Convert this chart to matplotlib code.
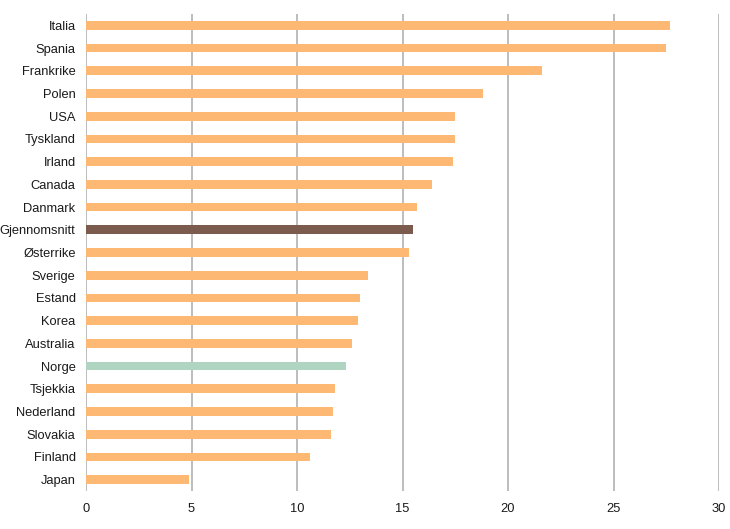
import matplotlib
matplotlib.use("Agg")
import matplotlib.pyplot as plt

countries = ["Italia", "Spania", "Frankrike", "Polen", "USA", "Tyskland", "Irland",
             "Canada", "Danmark", "Gjennomsnitt", "Østerrike", "Sverige", "Estand",
             "Korea", "Australia", "Norge", "Tsjekkia", "Nederland", "Slovakia",
             "Finland", "Japan"]
values = [27.7, 27.5, 21.6, 18.8, 17.5, 17.5, 17.4, 16.4, 15.7, 15.5, 15.3,
          13.35, 12.97, 12.9, 12.6, 12.3, 11.8, 11.7, 11.6, 10.6, 4.9]
xticks = [0, 5, 10, 15, 20, 25, 30]

ORANGE = "#fdb874"
BROWN = "#7b5b4e"
GREEN = "#afd4c1"
colors = []
for c in countries:
    if c == "Gjennomsnitt":
        colors.append(BROWN)
    elif c == "Norge":
        colors.append(GREEN)
    else:
        colors.append(ORANGE)

plt.rcParams["font.family"] = ["Liberation Sans", "DejaVu Sans"]

fig = plt.figure(figsize=(7.3, 5.29), dpi=100)
ax = fig.add_axes([86/730, 1 - 491/529, (719-86)/730, (491-14)/529])

y = list(range(len(countries)))
ax.barh(y, values, height=0.38, color=colors, zorder=3)

ax.set_xlim(0, 30)
ax.set_ylim(len(countries) - 0.5, -0.5)
ax.set_yticks(y)
ax.set_yticklabels(countries, fontsize=9.3, color="#1a1a1a")
ax.set_xticks(xticks)
ax.set_xticklabels([str(t) for t in xticks], fontsize=9.3, color="#1a1a1a")
ax.tick_params(axis="both", length=0)
ax.tick_params(axis="y", pad=7.5)
ax.tick_params(axis="x", pad=9)
for s in ax.spines.values():
    s.set_visible(False)
ax.grid(axis="x", color="#bdbdbd", linewidth=1.4, zorder=0)
ax.grid(axis="y", visible=False)

fig.savefig("out.png", dpi=100)
